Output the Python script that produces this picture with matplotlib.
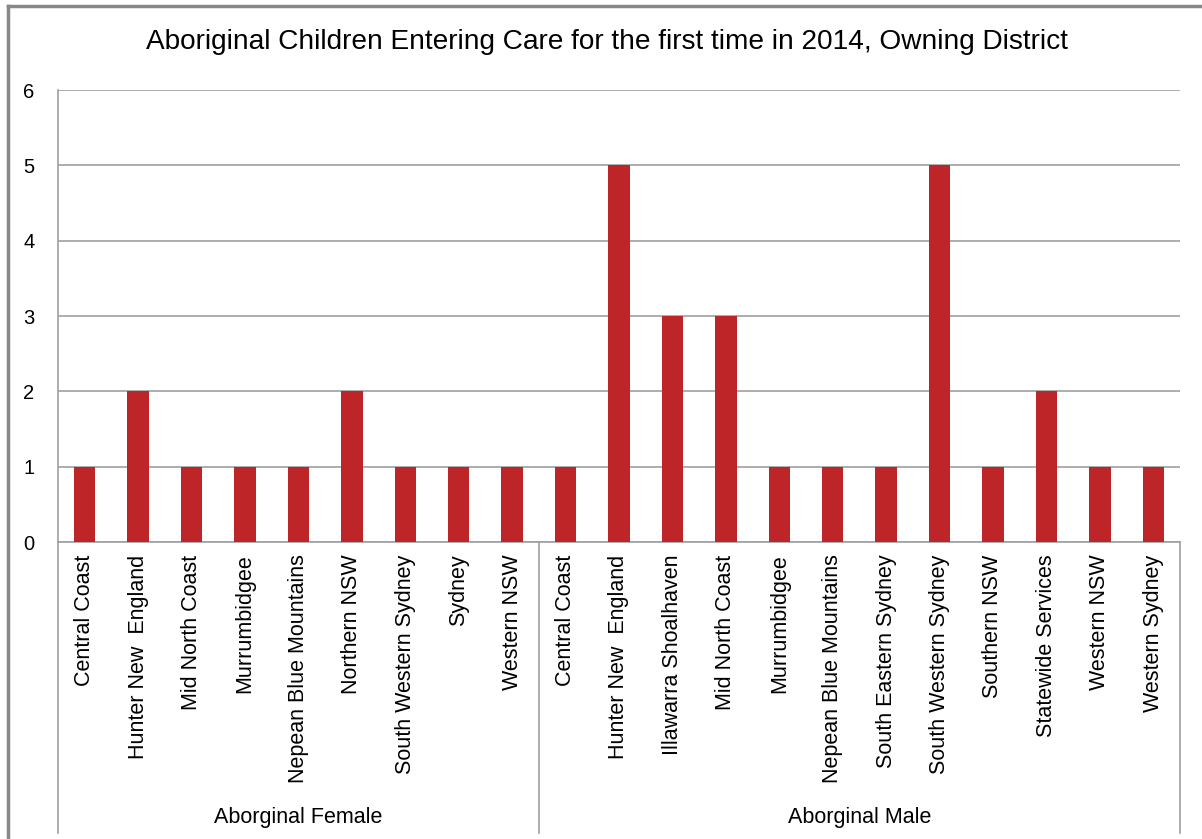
import matplotlib.pyplot as plt
from matplotlib.lines import Line2D
import numpy as np

plt.rcParams['font.family'] = ['Liberation Sans', 'DejaVu Sans']

female_names = ["Central Coast", "Hunter New  England", "Mid North Coast", "Murrumbidgee",
                "Nepean Blue Mountains", "Northern NSW", "South Western Sydney", "Sydney",
                "Western NSW"]
female_values = [1, 2, 1, 1, 1, 2, 1, 1, 1]

male_names = ["Central Coast", "Hunter New  England", "Illawarra Shoalhaven", "Mid North Coast",
              "Murrumbidgee", "Nepean Blue Mountains", "South Eastern Sydney",
              "South Western Sydney", "Southern NSW", "Statewide Services", "Western NSW",
              "Western Sydney"]
male_values = [1, 5, 3, 3, 1, 1, 1, 5, 1, 2, 1, 1]

groups = ["Aborginal Female", "Aborginal Male"]

names = female_names + male_names
values = female_values + male_values
x = np.arange(len(names))

fig = plt.figure(figsize=(12.02, 8.39), dpi=100)
ax = fig.add_axes([58 / 1202, 1 - 542 / 839, (1180 - 58) / 1202, 452 / 839])

ax.bar(x, values, width=0.4, color='#BE2529', zorder=3)
ax.set_xlim(-0.5, len(names) - 0.5)
ax.set_ylim(0, 6)
ax.set_yticks(range(7))
ax.yaxis.grid(True, color='#a0a0a0', linewidth=1.2, zorder=0)
ax.set_xticks(x)
ax.set_xticklabels(names, rotation=90, fontsize=15.5, va='top')
ax.tick_params(axis='x', length=0, pad=9)
ax.tick_params(axis='y', length=0, pad=21, labelsize=14.5)
for lbl in ax.get_yticklabels():
    lbl.set_horizontalalignment('center')
for s in ['top', 'right']:
    ax.spines[s].set_visible(False)
ax.spines['left'].set_color('#a0a0a0')
ax.spines['bottom'].set_color('#a0a0a0')
ax.spines['left'].set_linewidth(1.2)
ax.spines['bottom'].set_linewidth(1.2)

# group separators and labels below the axis
trans = ax.get_xaxis_transform()
low = -(833 - 542) / 452
for xs in [-0.5, len(female_names) - 0.5, len(names) - 0.5]:
    ax.plot([xs, xs], [0, low], color='#a0a0a0', lw=1.2, transform=trans, clip_on=False)
centers = [(len(female_names) - 1) / 2, len(female_names) + (len(male_names) - 1) / 2]
for c, g in zip(centers, groups):
    ax.text(c, -(817 - 542) / 452, g, transform=trans, ha='center', va='center', fontsize=15.5)

fig.text(0.505, 1 - 42 / 839, 'Aboriginal Children Entering Care for the first time in 2014, Owning District',
         ha='center', va='center', fontsize=20.2)

# outer chart border (top and left visible)
fig.add_artist(Line2D([8 / 1202, 8 / 1202], [0, 1 - 6 / 839], color='#888888', lw=2.5))
fig.add_artist(Line2D([8 / 1202, 1], [1 - 6 / 839, 1 - 6 / 839], color='#888888', lw=2.5))

fig.savefig('out.png', dpi=100)
